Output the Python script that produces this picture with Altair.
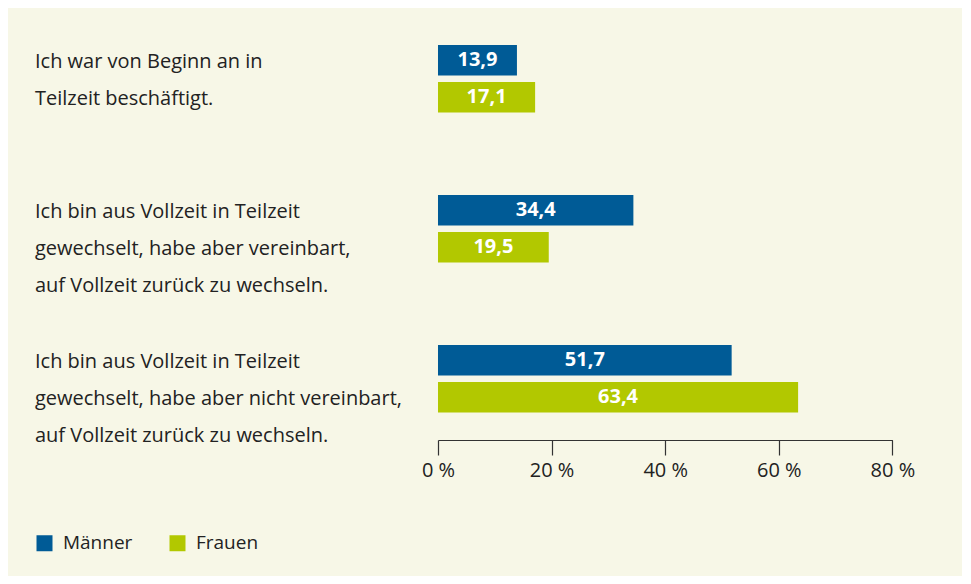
import altair as alt
import pandas as pd

groups = ["g1", "g2", "g3"]
group_labels = [
    "Ich war von Beginn an in\nTeilzeit beschäftigt.",
    "Ich bin aus Vollzeit in Teilzeit\ngewechselt, habe aber vereinbart,\nauf Vollzeit zurück zu wechseln.",
    "Ich bin aus Vollzeit in Teilzeit\ngewechselt, habe aber nicht vereinbart,\nauf Vollzeit zurück zu wechseln.",
]
genders = ["Männer", "Frauen"]
maenner = [13.9, 34.4, 51.7]
frauen = [17.1, 19.5, 63.4]
x_ticks = [0, 20, 40, 60, 80]

BLUE = "#005b96"
GREEN = "#b2c800"
BG = "#f7f7e7"
TXT = "#222222"
FONT = "Open Sans"

rows = []
for g, m, f in zip(groups, maenner, frauen):
    rows.append({"group": g, "gender": "Männer", "value": m})
    rows.append({"group": g, "gender": "Frauen", "value": f})
bars_df = pd.DataFrame(rows)
labels_df = pd.DataFrame({"group": groups, "label": group_labels})

y_scale = alt.Scale(domain=groups, paddingInner=0.5067, paddingOuter=0.1616)
yoff_scale = alt.Scale(domain=genders, paddingInner=0.175, paddingOuter=0.0875)

base = alt.Chart(bars_df)

bars = base.mark_bar().encode(
    x=alt.X(
        "value:Q",
        scale=alt.Scale(domain=[0, 80], nice=False, zero=True),
        axis=alt.Axis(
            values=x_ticks,
            labelExpr="datum.value + ' %'",
            title=None,
            grid=False,
            tickSize=15,
            tickColor="#333333",
            domainColor="#333333",
            tickWidth=1.2,
            domainWidth=1.2,
            labelFontSize=20,
            labelColor=TXT,
            labelFont=FONT,
            labelPadding=6,
            labelFlush=False,
        ),
    ),
    y=alt.Y("group:N", scale=y_scale, axis=None, sort=groups),
    yOffset=alt.YOffset("gender:N", scale=yoff_scale, sort=genders),
    color=alt.Color(
        "gender:N",
        scale=alt.Scale(domain=genders, range=[BLUE, GREEN]),
        legend=alt.Legend(
            title=None,
            orient="none",
            direction="horizontal",
            legendX=-403,
            legendY=516,
            symbolType="square",
            symbolSize=256,
            symbolStrokeWidth=0,
            symbolOpacity=1,
            labelFontSize=19,
            labelFont=FONT,
            labelColor=TXT,
            labelOffset=9,
            columnPadding=35,
            padding=0,
        ),
    ),
)

values = base.transform_calculate(
    mid="datum.value / 2",
    txt="replace(format(datum.value, '.1f'), '.', ',')",
).mark_text(
    color="white", fontWeight="bold", fontSize=20, font=FONT, baseline="middle", align="center"
).encode(
    x="mid:Q",
    y=alt.Y("group:N", scale=y_scale, axis=None, sort=groups),
    yOffset=alt.YOffset("gender:N", scale=yoff_scale, sort=genders),
    text="txt:N",
)

cat_text = alt.Chart(labels_df).mark_text(
    align="left",
    baseline="alphabetic",
    lineBreak="\n",
    lineHeight=37,
    fontSize=20,
    font=FONT,
    color=TXT,
    dy=-11,
).encode(
    x=alt.value(-403),
    y=alt.Y("group:N", scale=y_scale, axis=None, sort=groups),
    text="label:N",
)

chart = alt.layer(bars, values, cat_text).properties(
    width=454.4,
    height=422.5,
    padding={"left": 430, "top": 9.5, "right": 70, "bottom": 136},
    autosize=alt.AutoSizeParams(type="none"),
    background=BG,
).configure_view(stroke=None)

chart.save("out.html", embed_options={"renderer": "svg", "actions": False})
